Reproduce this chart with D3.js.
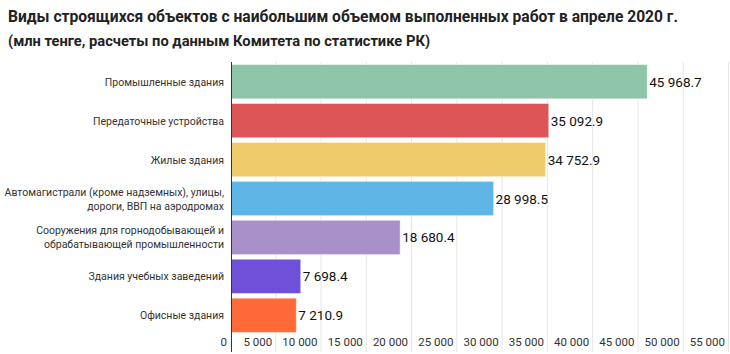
<!DOCTYPE html>
<html>
<head>
<meta charset="utf-8">
<script src="https://cdn.jsdelivr.net/npm/d3@7"></script>
<style>
  body { margin: 0; background: #fff; }
  svg { font-family: Roboto, "Noto Sans", sans-serif; }
</style>
</head>
<body>
<div id="chart"></div>
<script>
// data
var categories = [
  ["Промышленные здания"],
  ["Передаточные устройства"],
  ["Жилые здания"],
  ["Автомагистрали (кроме надземных), улицы,", "дороги, ВВП на аэродромах"],
  ["Сооружения для горнодобывающей и", "обрабатывающей промышленности"],
  ["Здания учебных заведений"],
  ["Офисные здания"]
];
var values = [45968.7, 35092.9, 34752.9, 28998.5, 18680.4, 7698.4, 7210.9];
var colors = ["#8ec4a8", "#de5557", "#efcb6c", "#5db6e6", "#a990c9", "#6e51d8", "#ff6a38"];
var ticks = [0, 5000, 10000, 15000, 20000, 25000, 30000, 35000, 40000, 45000, 50000, 55000];

var W = 730, H = 354;
var margin = {top: 62, right: 1, bottom: 22, left: 231};

var svg = d3.select("#chart").append("svg")
    .attr("width", W)
    .attr("height", H);

// title
var title = svg.append("text")
    .attr("x", 8)
    .attr("y", 22)
    .attr("font-weight", "bold")
    .attr("fill", "#222");
title.append("tspan").attr("x", 8).attr("font-size", 15.6)
    .text("Виды строящихся объектов с наибольшим объемом выполненных работ в апреле 2020 г.");
title.append("tspan").attr("x", 8).attr("dy", 24).attr("font-size", 14.7)
    .text("(млн тенге, расчеты по данным Комитета по статистике РК)");

var x = d3.scaleLinear()
    .domain([0, 55000])
    .range([margin.left, W - margin.right]);

var y = d3.scaleBand()
    .domain(d3.range(categories.length))
    .range([margin.top + 1, 334])
    .paddingInner(0.12)
    .paddingOuter(0.04);

// grid lines
svg.append("g")
  .selectAll("line")
  .data(ticks.slice(1))
  .enter().append("line")
    .attr("x1", function(d) { return x(d) - 0.5; })
    .attr("x2", function(d) { return x(d) - 0.5; })
    .attr("y1", margin.top)
    .attr("y2", H - 2)
    .attr("stroke", "#e6e6e6")
    .attr("stroke-width", 1);

// tick labels, right aligned to the left of each gridline
svg.append("g")
  .selectAll("text")
  .data(ticks)
  .enter().append("text")
    .attr("x", function(d) { return x(d) - 4; })
    .attr("y", 346)
    .attr("text-anchor", "end")
    .attr("font-size", 11.5)
    .attr("fill", "#333")
    .text(function(d) { return d3.format(",")(d).replace(/,/g, " "); });

// bars
svg.append("g")
  .selectAll("rect")
  .data(values)
  .enter().append("rect")
    .attr("x", x(0))
    .attr("y", function(d, i) { return y(i); })
    .attr("width", function(d) { return x(d) - x(0); })
    .attr("height", y.bandwidth())
    .attr("fill", function(d, i) { return colors[i]; })
    .attr("stroke", "rgba(255,255,255,0.45)")
    .attr("stroke-width", 1);

// value labels
svg.append("g")
  .selectAll("text")
  .data(values)
  .enter().append("text")
    .attr("x", function(d) { return x(d) + 2; })
    .attr("y", function(d, i) { return y(i) + y.bandwidth() / 2 + 5; })
    .attr("font-size", 13.5)
    .attr("fill", "#111")
    .text(function(d) { return d3.format(",.1f")(d).replace(/,/g, " "); });

// category labels
var cat = svg.append("g")
  .selectAll("text")
  .data(categories)
  .enter().append("text")
    .attr("text-anchor", "end")
    .attr("font-size", 10.5)
    .attr("fill", "#333")
    .attr("y", function(d, i) {
      return y(i) + y.bandwidth() / 2 + 4 - (d.length - 1) * 7;
    });
cat.selectAll("tspan")
  .data(function(d) { return d; })
  .enter().append("tspan")
    .attr("x", 224)
    .attr("dy", function(d, j) { return j === 0 ? 0 : 14; })
    .text(function(d) { return d; });

// axis line
svg.append("line")
    .attr("x1", x(0) + 0.5)
    .attr("x2", x(0) + 0.5)
    .attr("y1", margin.top)
    .attr("y2", H - 2)
    .attr("stroke", "#333")
    .attr("stroke-width", 1);
</script>
</body>
</html>
